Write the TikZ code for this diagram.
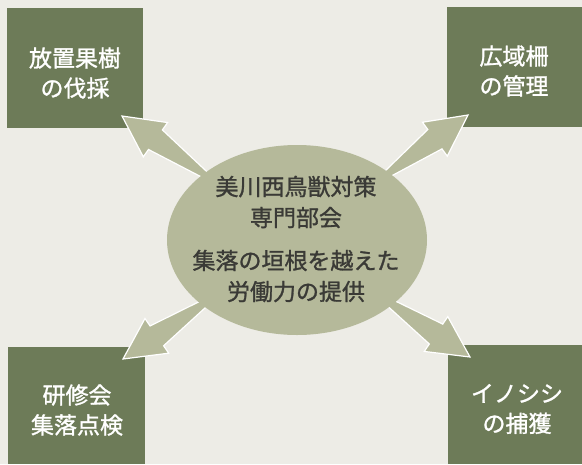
\documentclass[tikz,border=0pt]{standalone}
\usepackage{fontspec}
\setmainfont{Noto Sans CJK JP}
\newfontfamily\medfont[FakeBold=1.2]{Noto Sans CJK JP}
\usetikzlibrary{calc,shapes.geometric}
\definecolor{paper}{HTML}{EDECE6}
\definecolor{boxgreen}{HTML}{6D7B58}
\definecolor{lightgreen}{HTML}{B5B99A}
\definecolor{inktext}{HTML}{3A3A36}
\tikzset{
  corner/.style={fill=boxgreen, draw=none},
  boxtext/.style={text=white, align=center, font=\medfont\fontsize{23pt}{30pt}\selectfont, inner sep=0pt},
  hubtext/.style={text=inktext, align=center, font=\medfont\fontsize{23pt}{31pt}\selectfont, inner sep=0pt},
  blockarrow/.style={fill=lightgreen, draw=white, line width=1.2pt, line join=miter},
}
\newcommand{\myblockarrow}[2]{%
  \path[blockarrow]
    ($(#1)!12pt!90:(#2)$) --
    ($($(#2)!41pt!(#1)$)!12pt!-90:(#2)$) --
    ($($(#2)!41pt!(#1)$)!21pt!-90:(#2)$) --
    (#2) --
    ($($(#2)!41pt!(#1)$)!21pt!90:(#2)$) --
    ($($(#2)!41pt!(#1)$)!12pt!90:(#2)$) --
    ($(#1)!12pt!-90:(#2)$) -- cycle;}
\begin{document}
\begin{tikzpicture}[x=1pt,y=-1pt]
\fill[paper] (0,0) rectangle (582,464);
\useasboundingbox (0,0) rectangle (582,464);
% corner boxes
\path[corner] (7,8) rectangle (143,128);
\path[corner] (447,7) rectangle (582,127);
\path[corner] (8,347) rectangle (145,464);
\path[corner] (448,345) rectangle (582,464);
\node[boxtext] (tl) at (75,73) {放置果樹\\の伐採};
\node[boxtext] (tr) at (514,71) {広域柵\\の管理};
\node[boxtext] (bl) at (77,410) {研修会\\集落点検};
\node[boxtext] (br) at (517,409) {イノシシ\\の捕獲};
% arrows
\coordinate (c) at (297,240);
\coordinate (t1) at (122,116);
\coordinate (t2) at (468,115);
\coordinate (t3) at (123,359);
\coordinate (t4) at (470,357);
\myblockarrow{c}{t1}
\myblockarrow{c}{t2}
\myblockarrow{c}{t3}
\myblockarrow{c}{t4}
% hub
\node[ellipse, fill=lightgreen, draw=none, minimum width=260pt, minimum height=190pt, inner sep=0pt] (hub) at (297,240) {};
\node[hubtext] (h1) at (296,202) {美川西鳥獣対策\\専門部会};
\node[hubtext] (h2) at (296,276) {集落の垣根を越えた\\労働力の提供};
\end{tikzpicture}
\end{document}
